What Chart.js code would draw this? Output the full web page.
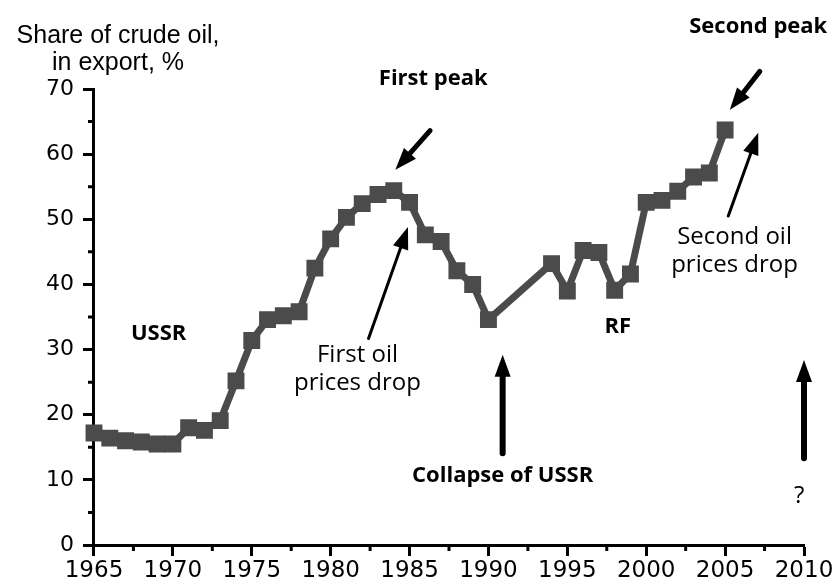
<!DOCTYPE html>
<html>
<head>
<meta charset="utf-8">
<script src="https://cdn.jsdelivr.net/npm/chart.js@4.4.1/dist/chart.umd.min.js"></script>
<style>
  html, body { margin: 0; padding: 0; background: #fff; }
  #wrap { width: 834px; height: 583px; position: relative; }
</style>
</head>
<body>
<div id="wrap"><canvas id="oilChart"></canvas></div>
<script>
// Data
const years = [1965, 1966, 1967, 1968, 1969, 1970, 1971, 1972, 1973, 1974, 1975, 1976, 1977,
  1978, 1979, 1980, 1981, 1982, 1983, 1984, 1985, 1986, 1987, 1988, 1989, 1990,
  1994, 1995, 1996, 1997, 1998, 1999, 2000, 2001, 2002, 2003, 2004, 2005];
const oilShare = [17.2, 16.4, 16.0, 15.8, 15.5, 15.5, 18.0, 17.6, 19.1, 25.2, 31.4, 34.6, 35.2,
  35.8, 42.5, 47.0, 50.3, 52.4, 53.8, 54.4, 52.6, 47.6, 46.6, 42.1, 40.0, 34.6,
  43.2, 39.0, 45.2, 44.9, 39.1, 41.6, 52.6, 52.9, 54.3, 56.5, 57.1, 63.7];
const xTicks = [1965, 1970, 1975, 1980, 1985, 1990, 1995, 2000, 2005, 2010];
const yTicks = [0, 10, 20, 30, 40, 50, 60, 70];
const axisTitle = ['Share of crude oil,', 'in export, %'];

// annotations, in data coordinates
const boldNotes = [
  { text: 'First peak', x: 1986.5, y: 71.5 },
  { text: 'Second peak', x: 2007.1, y: 79.6 },
  { text: 'USSR', x: 1969.1, y: 32.5 },
  { text: 'RF', x: 1998.2, y: 33.5 },
  { text: 'Collapse of USSR', x: 1990.9, y: 10.6 }
];
const plainNotes = [
  { text: 'First oil', x: 1981.7, y: 29.1 },
  { text: 'prices drop', x: 1981.7, y: 24.8 },
  { text: 'Second oil', x: 2005.6, y: 47.3 },
  { text: 'prices drop', x: 2005.6, y: 43.0 },
  { text: '?', x: 2009.7, y: 7.5 }
];
const arrows = [
  { from: [1986.3, 63.6], to: [1984.1, 57.6], w: 5 },
  { from: [2007.2, 72.7], to: [2005.3, 66.8], w: 5 },
  { from: [1982.4, 31.7], to: [1984.9, 48.8], w: 3 },
  { from: [2005.2, 50.5], to: [2007.1, 63.3], w: 3 },
  { from: [1990.9, 14.1], to: [1990.9, 29.2], w: 6 },
  { from: [2010.0, 13.3], to: [2010.0, 28.4], w: 6 }
];

const points = years.map((y, i) => ({ x: y, y: oilShare[i] }));

function drawArrow(ctx, x1, y1, x2, y2, w) {
  const ang = Math.atan2(y2 - y1, x2 - x1);
  const headLen = 22, headW = 8;
  const bx = x2 - Math.cos(ang) * headLen;
  const by = y2 - Math.sin(ang) * headLen;
  ctx.beginPath();
  ctx.lineWidth = w;
  ctx.lineCap = 'round';
  ctx.moveTo(x1, y1);
  ctx.lineTo(bx, by);
  ctx.stroke();
  ctx.beginPath();
  ctx.moveTo(x2, y2);
  ctx.lineTo(bx + Math.sin(ang) * headW, by - Math.cos(ang) * headW);
  ctx.lineTo(bx - Math.sin(ang) * headW, by + Math.cos(ang) * headW);
  ctx.closePath();
  ctx.fill();
}

const notesPlugin = {
  id: 'notes',
  afterDraw(chart) {
    const ctx = chart.ctx;
    const xs = chart.scales.x, ys = chart.scales.y;
    ctx.save();
    ctx.fillStyle = '#000';
    ctx.strokeStyle = '#000';

    // minor ticks
    ctx.lineWidth = 3;
    ctx.beginPath();
    for (let v = 1967.5; v < 2010; v += 5) {
      const px = xs.getPixelForValue(v);
      ctx.moveTo(px, xs.top);
      ctx.lineTo(px, xs.top + 6);
    }
    for (let v = 5; v < 70; v += 10) {
      const py = ys.getPixelForValue(v);
      ctx.moveTo(ys.right, py);
      ctx.lineTo(ys.right - 6, py);
    }
    ctx.stroke();

    // axis title on top
    ctx.textAlign = 'center';
    ctx.textBaseline = 'middle';
    ctx.font = '25px "Liberation Sans", Arial, sans-serif';
    ctx.fillText(axisTitle[0], 118, 36);
    ctx.fillText(axisTitle[1], 118, 63);

    ctx.font = 'bold 22px "Open Sans", sans-serif';
    boldNotes.forEach(n => {
      ctx.fillText(n.text, xs.getPixelForValue(n.x), ys.getPixelForValue(n.y));
    });
    ctx.font = '24px "Open Sans", sans-serif';
    plainNotes.forEach(n => {
      ctx.fillText(n.text, xs.getPixelForValue(n.x), ys.getPixelForValue(n.y));
    });

    arrows.forEach(a => {
      drawArrow(ctx,
        xs.getPixelForValue(a.from[0]), ys.getPixelForValue(a.from[1]),
        xs.getPixelForValue(a.to[0]), ys.getPixelForValue(a.to[1]), a.w);
    });
    ctx.restore();
  }
};

const ctx = document.getElementById('oilChart').getContext('2d');
new Chart(ctx, {
  type: 'line',
  data: {
    datasets: [{
      label: 'Share of crude oil in export, %',
      data: points,
      borderColor: '#4b4b4b',
      backgroundColor: '#4b4b4b',
      borderWidth: 7,
      tension: 0,
      pointStyle: 'rect',
      pointRadius: 7,
      pointHoverRadius: 7,
      clip: false
    }]
  },
  options: {
    responsive: true,
    maintainAspectRatio: false,
    animation: false,
    events: [],
    layout: { padding: { top: 89, right: 0, left: 37, bottom: 0 } },
    plugins: { legend: { display: false }, tooltip: { enabled: false } },
    scales: {
      x: {
        type: 'linear',
        min: 1965,
        max: 2010,
        afterBuildTicks: (s) => { s.ticks = xTicks.map(v => ({ value: v })); },
        afterFit: (s) => { s.height = 38; s.paddingRight = 30; },
        border: { display: true, color: '#000', width: 3 },
        grid: { drawOnChartArea: false, tickLength: 11, tickWidth: 3, tickColor: '#000' },
        ticks: {
          color: '#000',
          padding: 4,
          maxRotation: 0,
          autoSkip: false,
          font: { family: '"DejaVu Sans", sans-serif', size: 23, lineHeight: 0.92 },
          callback: (v) => String(v)
        }
      },
      y: {
        min: 0,
        max: 70,
        afterBuildTicks: (s) => { s.ticks = yTicks.map(v => ({ value: v })); },
        border: { display: true, color: '#000', width: 3 },
        grid: { drawOnChartArea: false, tickLength: 11, tickWidth: 3, tickColor: '#000' },
        ticks: {
          color: '#000',
          padding: 9,
          autoSkip: false,
          font: { family: '"DejaVu Sans", sans-serif', size: 22 },
          callback: (v) => String(v)
        }
      }
    }
  },
  plugins: [notesPlugin]
});
</script>
</body>
</html>
